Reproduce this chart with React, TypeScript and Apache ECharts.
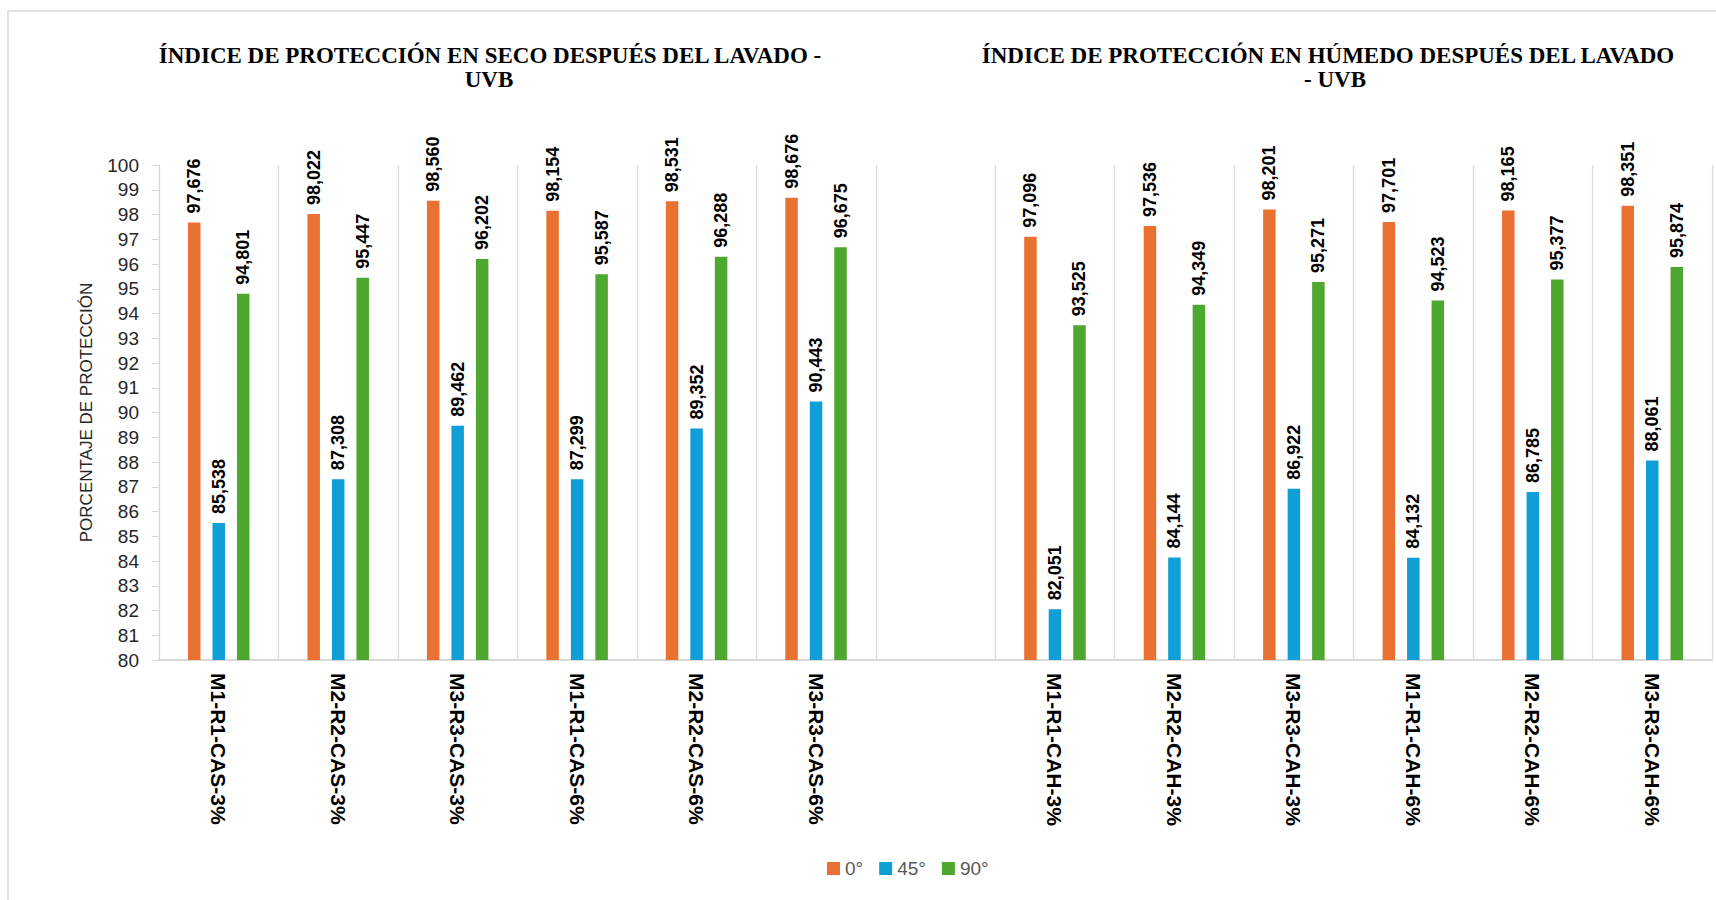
import React, { useEffect, useRef } from "react";
import * as echarts from "echarts";

const categories = [
  "M1-R1-CAS-3%",
  "M2-R2-CAS-3%",
  "M3-R3-CAS-3%",
  "M1-R1-CAS-6%",
  "M2-R2-CAS-6%",
  "M3-R3-CAS-6%",
  "",
  "M1-R1-CAH-3%",
  "M2-R2-CAH-3%",
  "M3-R3-CAH-3%",
  "M1-R1-CAH-6%",
  "M2-R2-CAH-6%",
  "M3-R3-CAH-6%",
];

const seriesNames = ["0°", "45°", "90°"];

const values0 = [97.676, 98.022, 98.56, 98.154, 98.531, 98.676, null, 97.096, 97.536, 98.201, 97.701, 98.165, 98.351];
const values45 = [85.538, 87.308, 89.462, 87.299, 89.352, 90.443, null, 82.051, 84.144, 86.922, 84.132, 86.785, 88.061];
const values90 = [94.801, 95.447, 96.202, 95.587, 96.288, 96.675, null, 93.525, 94.349, 95.271, 94.523, 95.377, 95.874];

const colors = ["#E97132", "#0F9ED5", "#4EA72E"];

const title1 = ["ÍNDICE DE PROTECCIÓN EN SECO DESPUÉS DEL LAVADO -", "UVB"];
const title2 = ["ÍNDICE DE PROTECCIÓN EN HÚMEDO DESPUÉS DEL LAVADO", "- UVB"];
const yAxisName = "PORCENTAJE DE PROTECCIÓN";

export default function App() {
  const ref = useRef<HTMLDivElement>(null);

  useEffect(() => {
    if (!ref.current) return;
    const chart = echarts.init(ref.current, undefined, { renderer: "svg" });
    const titleFont = 'bold 23px "Liberation Serif", "Times New Roman", serif';
    const mkTitle = (text: string, x: number, y: number) => ({
      type: "text",
      x,
      y,
      style: {
        text,
        font: titleFont,
        fill: "#000",
        textAlign: "center",
        textVerticalAlign: "middle",
      },
    });
    const valuesList = [values0, values45, values90];
    chart.setOption({
      animation: false,
      backgroundColor: "#fff",
      graphic: [
        {
          type: "rect",
          shape: { x: 8, y: 11, width: 1720, height: 900 },
          style: { fill: "none", stroke: "#d9d9d9", lineWidth: 1.5 },
          silent: true,
        },
        mkTitle(title1[0], 490, 55),
        mkTitle(title1[1], 489, 79),
        mkTitle(title2[0], 1328, 55),
        mkTitle(title2[1], 1335, 79),
      ],
      legend: {
        data: seriesNames,
        left: 822,
        top: 854,
        icon: "rect",
        itemWidth: 13,
        itemHeight: 13,
        itemGap: 16,
        textStyle: { fontSize: 19, color: "#595959", fontFamily: "Liberation Sans, Arial, sans-serif" },
      },
      grid: { left: 159, right: 4, top: 165, bottom: 240, containLabel: false },
      xAxis: {
        type: "category",
        data: categories,
        axisLine: { show: true, lineStyle: { color: "#d9d9d9", width: 2 } },
        axisTick: { show: false },
        splitLine: { show: true, lineStyle: { color: "#d9d9d9", width: 1.2 } },
        axisLabel: {
          rotate: -90,
          interval: 0,
          margin: 13,
          fontSize: 21,
          fontWeight: "bold",
          color: "#000",
          fontFamily: "Liberation Sans, Arial, sans-serif",
        },
      },
      yAxis: {
        type: "value",
        min: 80,
        max: 100,
        interval: 1,
        name: yAxisName,
        nameLocation: "middle",
        nameRotate: 90,
        nameGap: 64,
        nameTextStyle: { fontSize: 17, color: "#262626", fontFamily: "Liberation Sans, Arial, sans-serif" },
        axisLine: { show: true, lineStyle: { color: "#d9d9d9", width: 1.2 } },
        axisTick: { show: true, length: 7, lineStyle: { color: "#d9d9d9" } },
        splitLine: { show: false },
        axisLabel: {
          fontSize: 19,
          color: "#262626",
          margin: 20,
          fontFamily: "Liberation Sans, Arial, sans-serif",
        },
      },
      series: seriesNames.map((name, i) => ({
        name,
        type: "bar",
        data: valuesList[i],
        barWidth: 12.5,
        barGap: "96%",
        itemStyle: { color: colors[i] },
        label: {
          show: true,
          position: "top",
          rotate: 90,
          align: "left",
          verticalAlign: "middle",
          distance: 9,
          fontSize: 18,
          fontWeight: "bold",
          color: "#000",
          fontFamily: "Liberation Sans, Arial, sans-serif",
          formatter: (p: any) => (p.value == null ? "" : Number(p.value).toFixed(3).replace(".", ",")),
        },
      })),
    });
    return () => chart.dispose();
  }, []);

  return <div ref={ref} style={{ width: 1716, height: 900, position: "absolute", left: 0, top: 0 }} />;
}
